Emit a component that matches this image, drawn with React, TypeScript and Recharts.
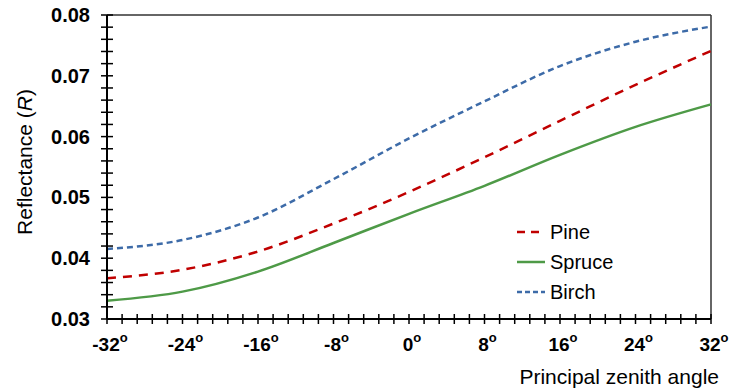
import { LineChart, Line, XAxis, YAxis, ReferenceLine, Label } from 'recharts';

const angles = [-32, -24, -16, -8, 0, 8, 16, 24, 32];
const pine = [0.0367, 0.0381, 0.0411, 0.0457, 0.0509, 0.0566, 0.0626, 0.0685, 0.0741];
const spruce = [0.0330, 0.0345, 0.0378, 0.0425, 0.0473, 0.0519, 0.0570, 0.0616, 0.0653];
const birch = [0.0415, 0.0430, 0.0467, 0.0530, 0.0597, 0.0658, 0.0716, 0.0756, 0.0781];

const xMajor = [-32, -24, -16, -8, 0, 8, 16, 24, 32];
const yMajor = [0.03, 0.04, 0.05, 0.06, 0.07, 0.08];
const minorPerMajor = 5;

const FONT = '"Liberation Sans", Arial, sans-serif';

const data = angles.map((a, i) => ({ angle: a, pine: pine[i], spruce: spruce[i], birch: birch[i] }));

// minor ticks between majors (5 intervals each)
const withMinor = (major: number[], digits: number) => {
    const out: number[] = [];
    for (let i = 0; i < major.length - 1; i++) {
        const step = (major[i + 1] - major[i]) / minorPerMajor;
        for (let k = 0; k < minorPerMajor; k++) out.push(+(major[i] + k * step).toFixed(digits));
    }
    out.push(major[major.length - 1]);
    return out;
};
const xTicks = withMinor(xMajor, 2);
const yTicks = withMinor(yMajor, 4);

const isMajor = (v: number, major: number[]) => major.some((m) => Math.abs(m - v) < 1e-9);

// tickSize 5, tickMargin 0 -> text anchor sits 5px outside the axis line
const XTick = (props: any) => {
    const { x, y, payload } = props;
    const v = payload.value;
    const ay = y - 5;
    return (
        <g>
            <path d={`M${x},${ay - 5}L${x},${ay + 5}`} stroke="#000" strokeWidth={1.5} fill="none" />
            {isMajor(v, xMajor) && (
                <text x={x + 3} y={ay + 32} textAnchor="middle" fontFamily={FONT} fontWeight="bold" fontSize={19} fill="#000">
                    {v}
                    <tspan dy={-9} fontSize={13}>o</tspan>
                </text>
            )}
        </g>
    );
};

const YTick = (props: any) => {
    const { x, y, payload } = props;
    const v = payload.value;
    const ax = x + 5;
    return (
        <g>
            <path d={`M${ax - 6},${y}L${ax + 6},${y}`} stroke="#000" strokeWidth={1.5} fill="none" />
            {isMajor(v, yMajor) && (
                <text x={ax - 17} y={y + 7} textAnchor="end" fontFamily={FONT} fontWeight="bold" fontSize={20} fill="#000">
                    {v.toFixed(2)}
                </text>
            )}
        </g>
    );
};

const legendItems = [
    { name: 'Pine', color: '#C00000', dash: '8 6' },
    { name: 'Spruce', color: '#4E9A47', dash: undefined },
    { name: 'Birch', color: '#3D6BA8', dash: '5 3' },
];

const App = () => {
    return (
        <div style={{ position: 'absolute', left: 0, top: 0, width: 732, height: 392, background: '#fff' }}>
            <LineChart width={732} height={392} data={data} margin={{ top: 15, right: 21, left: 0, bottom: 0 }}>
                <XAxis
                    dataKey="angle"
                    type="number"
                    domain={[-32, 32]}
                    ticks={xTicks}
                    interval={0}
                    height={73}
                    tickSize={5}
                    tickMargin={0}
                    tickLine={false}
                    axisLine={{ stroke: '#000', strokeWidth: 2 }}
                    tick={<XTick />}
                >
                    <Label
                        content={() => (
                            <text x={719} y={384} textAnchor="end" fontFamily={FONT} fontSize={21} fill="#000">
                                Principal zenith angle
                            </text>
                        )}
                    />
                </XAxis>
                <YAxis
                    type="number"
                    domain={[0.03, 0.08]}
                    ticks={yTicks}
                    interval={0}
                    width={107}
                    tickSize={5}
                    tickMargin={0}
                    tickLine={false}
                    axisLine={{ stroke: '#000', strokeWidth: 2 }}
                    tick={<YTick />}
                >
                    <Label
                        content={() => (
                            <text x={32} y={162} transform="rotate(-90 32 162)" textAnchor="middle" fontFamily={FONT} fontSize={21} fill="#000">
                                Reflectance (<tspan fontStyle="italic">R</tspan>)
                            </text>
                        )}
                    />
                </YAxis>
                <ReferenceLine y={0.08} stroke="#333" strokeWidth={1.5} />
                <ReferenceLine x={32} stroke="#333" strokeWidth={1.5} />
                <Line type="monotone" dataKey="pine" name="Pine" stroke="#C00000" strokeWidth={2.5} strokeDasharray="9 7" dot={false} isAnimationActive={false} />
                <Line type="monotone" dataKey="spruce" name="Spruce" stroke="#4E9A47" strokeWidth={2.5} dot={false} isAnimationActive={false} />
                <Line type="monotone" dataKey="birch" name="Birch" stroke="#3D6BA8" strokeWidth={2.5} strokeDasharray="6 4" dot={false} isAnimationActive={false} />
            </LineChart>
            <div style={{ position: 'absolute', left: 516, top: 217, fontFamily: FONT, fontSize: 20, color: '#000' }}>
                {legendItems.map((it) => (
                    <div key={it.name} style={{ display: 'flex', alignItems: 'center', height: 30 }}>
                        <svg width={30} height={10} style={{ marginRight: 4 }}>
                            <line x1={1} x2={29} y1={5} y2={5} stroke={it.color} strokeWidth={2.5} strokeDasharray={it.dash} />
                        </svg>
                        <span>{it.name}</span>
                    </div>
                ))}
            </div>
        </div>
    );
};

export default App;
